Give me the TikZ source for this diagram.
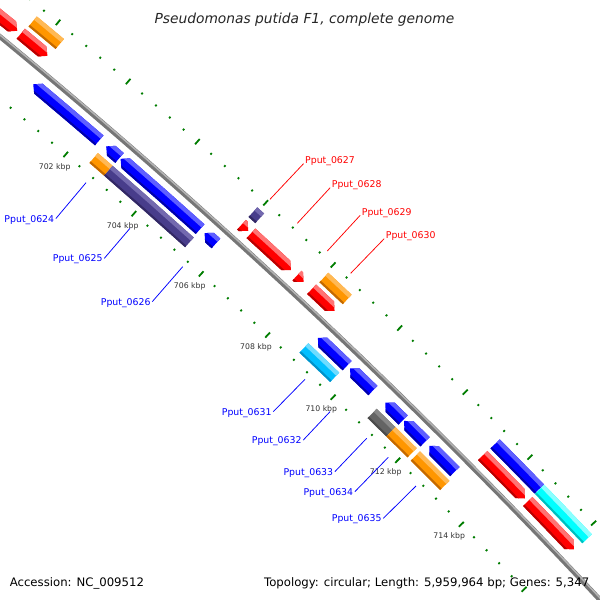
\documentclass[tikz,border=0pt]{standalone}
\usepackage{fontspec}
\setmainfont{DejaVu Sans}
\definecolor{cred}{RGB}{255,0,0}\definecolor{credL}{RGB}{255,115,115}\definecolor{credD}{RGB}{185,0,0}
\definecolor{cblue}{RGB}{0,0,255}\definecolor{cblueL}{RGB}{95,95,255}\definecolor{cblueD}{RGB}{0,0,170}
\definecolor{corange}{RGB}{255,150,0}\definecolor{corangeL}{RGB}{255,185,85}\definecolor{corangeD}{RGB}{195,105,0}
\definecolor{cpurple}{RGB}{72,61,139}\definecolor{cpurpleL}{RGB}{115,105,175}\definecolor{cpurpleD}{RGB}{50,40,100}
\definecolor{cgrey}{RGB}{100,100,100}\definecolor{cgreyL}{RGB}{135,135,135}\definecolor{cgreyD}{RGB}{75,75,75}
\definecolor{csky}{RGB}{0,191,255}\definecolor{cskyL}{RGB}{110,220,255}\definecolor{cskyD}{RGB}{0,145,200}
\definecolor{ccyan}{RGB}{0,255,255}\definecolor{ccyanL}{RGB}{140,255,255}\definecolor{ccyanD}{RGB}{0,190,190}
\definecolor{tickgreen}{RGB}{0,125,0}
\definecolor{bbgray}{RGB}{118,118,118}\definecolor{bbgrayL}{RGB}{180,180,180}
\definecolor{labblue}{RGB}{0,0,255}\definecolor{labred}{RGB}{255,0,0}
% polar mapping: kbp position #1, radius #2 -> screen x,y
\newcommand\polxy[4]{%
  \edef#3{\fpeval{round(-3964+(#2)*cosd(-49.43+((#1)-702)*0.4175),3)}}%
  \edef#4{\fpeval{round(4861+(#2)*sind(-49.43+((#1)-702)*0.4175),3)}}}
\newcommand\addpt[2]{\polxy{#1}{#2}\tmpx\tmpy\xdef\curpath{\curpath(\tmpx,\tmpy)--}}
\def\ahl{0.15}
% gene: p1 p2 rin rout type(0 box,1 fwd,2 rev) base light dark
\newcommand\gene[8]{%
  \begingroup
  \edef\ga{\fpeval{#1}}\edef\gb{\fpeval{#2}}%
  \edef\gri{\fpeval{#3}}\edef\gro{\fpeval{#4}}%
  \edef\grm{\fpeval{(\gri+\gro)/2}}%
  \gdef\curpath{}%
  \ifcase#5\relax
    \edef\gm{\fpeval{(\ga+\gb)/2}}%
    \addpt\ga\gri\addpt\ga\gro\addpt\gm\gro\addpt\gb\gro\addpt\gb\gri\addpt\gm\gri
  \or
    \edef\gh{\fpeval{max(\ga,\gb-\ahl)}}\edef\gm{\fpeval{(\ga+\gh)/2}}%
    \addpt\ga\gri\addpt\ga\gro\addpt\gm\gro\addpt\gh\gro\addpt\gb\grm\addpt\gh\gri\addpt\gm\gri
  \or
    \edef\gh{\fpeval{min(\gb,\ga+\ahl)}}\edef\gm{\fpeval{(\gh+\gb)/2}}%
    \addpt\ga\grm\addpt\gh\gro\addpt\gm\gro\addpt\gb\gro\addpt\gb\gri\addpt\gm\gri\addpt\gh\gri
  \fi
  \let\gshape\curpath
  \edef\gw{\fpeval{\gro-\gri}}%
  \edef\gmm{\fpeval{(\ga+\gb)/2}}%
  \edef\gl{\fpeval{\gro-0.33*\gw}}%
  \gdef\curpath{}%
  \addpt{\ga-0.3}{\gl}\addpt{\ga-0.3}{\gro+2}\addpt{\gmm}{\gro+2}\addpt{\gb+0.3}{\gro+2}\addpt{\gb+0.3}{\gl}\addpt{\gmm}{\gl}%
  \let\glight\curpath
  \edef\gd{\fpeval{\gri+0.16*\gw}}%
  \gdef\curpath{}%
  \addpt{\ga-0.3}{\gri-2}\addpt{\ga-0.3}{\gd}\addpt{\gmm}{\gd}\addpt{\gb+0.3}{\gd}\addpt{\gb+0.3}{\gri-2}\addpt{\gmm}{\gri-2}%
  \let\gdark\curpath
  \edef\doit{\noexpand\fill[#6] \gshape cycle;
    \noexpand\begin{scope}\noexpand\clip \gshape cycle;
    \noexpand\fill[#7] \glight cycle; \noexpand\fill[#8] \gdark cycle;
    \noexpand\end{scope}}%
  \doit
  \endgroup}
\begin{document}
\begin{tikzpicture}[x=1pt,y=-1pt,
  tickline/.style={tickgreen,line width=1.8pt},
  ticklab/.style={font=\fontsize{7.75}{9}\selectfont,text=black!80,inner sep=0pt},
  blab/.style={font=\fontsize{9.35}{11}\selectfont,text=labblue,anchor=base west,inner xsep=1.5pt,inner ysep=0pt,text height=6.8pt,text depth=0pt},
  rlab/.style={font=\fontsize{9.35}{11}\selectfont,text=labred,anchor=base west,inner xsep=1.5pt,inner ysep=0pt,text height=6.8pt,text depth=0pt},
  bline/.style={labblue,line width=0.75pt},
  rline/.style={labred,line width=0.75pt},
  foot/.style={font=\fontsize{11.7}{14}\selectfont,inner sep=0pt}]
\useasboundingbox (0,0) rectangle (600,600);
\fill[white] (0,0) rectangle (600,600);
\begin{scope}
\clip (0,0) rectangle (600,600);
% ticks
\foreach \k in {0,...,62}{%
  \edef\tp{\fpeval{693.6+0.4*\k}}%
  \ifnum\fpeval{\k-5*trunc(\k/5)}=1
    \polxy{\tp}{6288.5}\ax\ay\polxy{\tp}{6295.5}\bx\by
    \draw[tickline] (\ax,\ay) -- (\bx,\by);
    \polxy{\tp}{6192.5}\ax\ay\polxy{\tp}{6199.5}\bx\by
    \draw[tickline] (\ax,\ay) -- (\bx,\by);
  \else
    \polxy{\tp}{6291}\ax\ay\polxy{\tp}{6293}\bx\by
    \draw[tickline] (\ax,\ay) -- (\bx,\by);
    \polxy{\tp}{6195}\ax\ay\polxy{\tp}{6197}\bx\by
    \draw[tickline] (\ax,\ay) -- (\bx,\by);
  \fi}
% backbone
\gdef\curpath{}
\foreach \k in {0,...,56}{\addpt{693+0.5*\k}{6244}}
\polxy{721}{6244}\ex\ey
\edef\doit{\noexpand\draw[bbgray,line width=5pt] \curpath(\ex,\ey);}\doit
\gdef\curpath{}
\foreach \k in {0,...,56}{\addpt{693+0.5*\k}{6245.3}}
\polxy{721}{6245.3}\ex\ey
\edef\doit{\noexpand\draw[bbgrayL,line width=1.5pt] \curpath(\ex,\ey);}\doit
% outer strand arrows (O1)
\gene{693}{699.43}{6253}{6266}{1}{cred}{credL}{credD}
\gene{699.53}{700.29}{6253}{6266}{1}{cred}{credL}{credD}
\gene{705.93}{706.13}{6253}{6266}{1}{cred}{credL}{credD}
\gene{706.21}{707.40}{6253}{6266}{1}{cred}{credL}{credD}
\gene{707.58}{707.78}{6253}{6266}{1}{cred}{credL}{credD}
\gene{708.02}{708.71}{6253}{6266}{1}{cred}{credL}{credD}
\gene{713.25}{714.57}{6253}{6266}{1}{cred}{credL}{credD}
\gene{714.66}{716.12}{6253}{6266}{1}{cred}{credL}{credD}
% outer category boxes (O2)
\gene{699.56}{700.33}{6270}{6283}{0}{corange}{corangeL}{corangeD}
\gene{705.93}{706.13}{6270}{6283}{0}{cpurple}{cpurpleL}{cpurpleD}
\gene{708.04}{708.74}{6270}{6283}{0}{corange}{corangeL}{corangeD}
\gene{713.26}{714.64}{6270}{6283}{0}{cblue}{cblueL}{cblueD}
\gene{714.65}{716.15}{6270}{6283}{0}{ccyan}{ccyanL}{ccyanD}
% inner strand arrows (I1)
\gene{700.45}{702.36}{6222}{6235}{2}{cblue}{cblueL}{cblueD}
\gene{702.56}{702.95}{6222}{6235}{2}{cblue}{cblueL}{cblueD}
\gene{702.98}{705.32}{6222}{6235}{2}{cblue}{cblueL}{cblueD}
\gene{705.45}{705.79}{6222}{6235}{2}{cblue}{cblueL}{cblueD}
\gene{708.85}{709.74}{6222}{6235}{2}{cblue}{cblueL}{cblueD}
\gene{709.83}{710.53}{6222}{6235}{2}{cblue}{cblueL}{cblueD}
\gene{710.91}{711.46}{6222}{6235}{2}{cblue}{cblueL}{cblueD}
\gene{711.49}{712.14}{6222}{6235}{2}{cblue}{cblueL}{cblueD}
\gene{712.27}{713.07}{6222}{6235}{2}{cblue}{cblueL}{cblueD}
% inner category boxes (I2)
\gene{702.52}{702.95}{6205}{6218}{0}{corange}{corangeL}{corangeD}
\gene{702.95}{705.34}{6205}{6218}{0}{cpurple}{cpurpleL}{cpurpleD}
\gene{708.78}{709.72}{6205}{6218}{0}{csky}{cskyL}{cskyD}
\gene{710.87}{711.45}{6205}{6218}{0}{cgrey}{cgreyL}{cgreyD}
\gene{711.45}{712.11}{6205}{6218}{0}{corange}{corangeL}{corangeD}
\gene{712.21}{713.13}{6205}{6218}{0}{corange}{corangeL}{corangeD}
% tick labels
\foreach \v in {702,704,...,714}{\polxy{\v}{6179}\lx\ly \node[ticklab] (t\v) at (\lx,\ly) {\v\ kbp};}
\end{scope}
% label anchors
\coordinate (c0624) at (86,182.7);
\coordinate (c0625) at (130,228.3);
\coordinate (c0626) at (182.7,266.7);
\coordinate (c0631) at (305,379.3);
\coordinate (c0632) at (330,411.7);
\coordinate (c0633) at (366.7,438.3);
\coordinate (c0634) at (388.3,457.3);
\coordinate (c0635) at (416,486);
\coordinate (c0627) at (270,199.3);
\coordinate (c0628) at (297.3,223.3);
\coordinate (c0629) at (327.3,251);
\coordinate (c0630) at (350.7,273.3);
% labels
\node[blab] (l0624) at (2.8,222) {Pput\_0624};
\node[blab] (l0625) at (51.2,261.8) {Pput\_0625};
\node[blab] (l0626) at (99.2,305.1) {Pput\_0626};
\node[blab] (l0631) at (220.2,415.1) {Pput\_0631};
\node[blab] (l0632) at (250.2,443.5) {Pput\_0632};
\node[blab] (l0633) at (281.8,475.1) {Pput\_0633};
\node[blab] (l0634) at (301.8,495.1) {Pput\_0634};
\node[blab] (l0635) at (330.2,521.8) {Pput\_0635};
\node[rlab] (l0627) at (303.5,163.5) {Pput\_0627};
\node[rlab] (l0628) at (330.2,187.5) {Pput\_0628};
\node[rlab] (l0629) at (360.2,215.1) {Pput\_0629};
\node[rlab] (l0630) at (384.2,238.5) {Pput\_0630};
\draw[bline] (l0624.east) -- (c0624);
\draw[bline] (l0625.east) -- (c0625);
\draw[bline] (l0626.east) -- (c0626);
\draw[bline] (l0631.east) -- (c0631);
\draw[bline] (l0632.east) -- (c0632);
\draw[bline] (l0633.east) -- (c0633);
\draw[bline] (l0634.east) -- (c0634);
\draw[bline] (l0635.east) -- (c0635);
\draw[rline] (l0627.south west) -- (c0627);
\draw[rline] (l0628.south west) -- (c0628);
\draw[rline] (l0629.south west) -- (c0629);
\draw[rline] (l0630.south west) -- (c0630);
% title and footer
\node[font=\fontsize{13.8}{16}\selectfont\itshape,anchor=base,inner sep=0pt,text=black!85] (title) at (304.4,23.3) {Pseudomonas putida F1, complete genome};
\node[foot,anchor=base west] (acc) at (9.6,586.5) {Accession: NC\_009512};
\node[foot,anchor=base east] (topo) at (589.4,586.5) {Topology: circular; Length: 5,959,964 bp; Genes: 5,347};
\end{tikzpicture}
\end{document}
